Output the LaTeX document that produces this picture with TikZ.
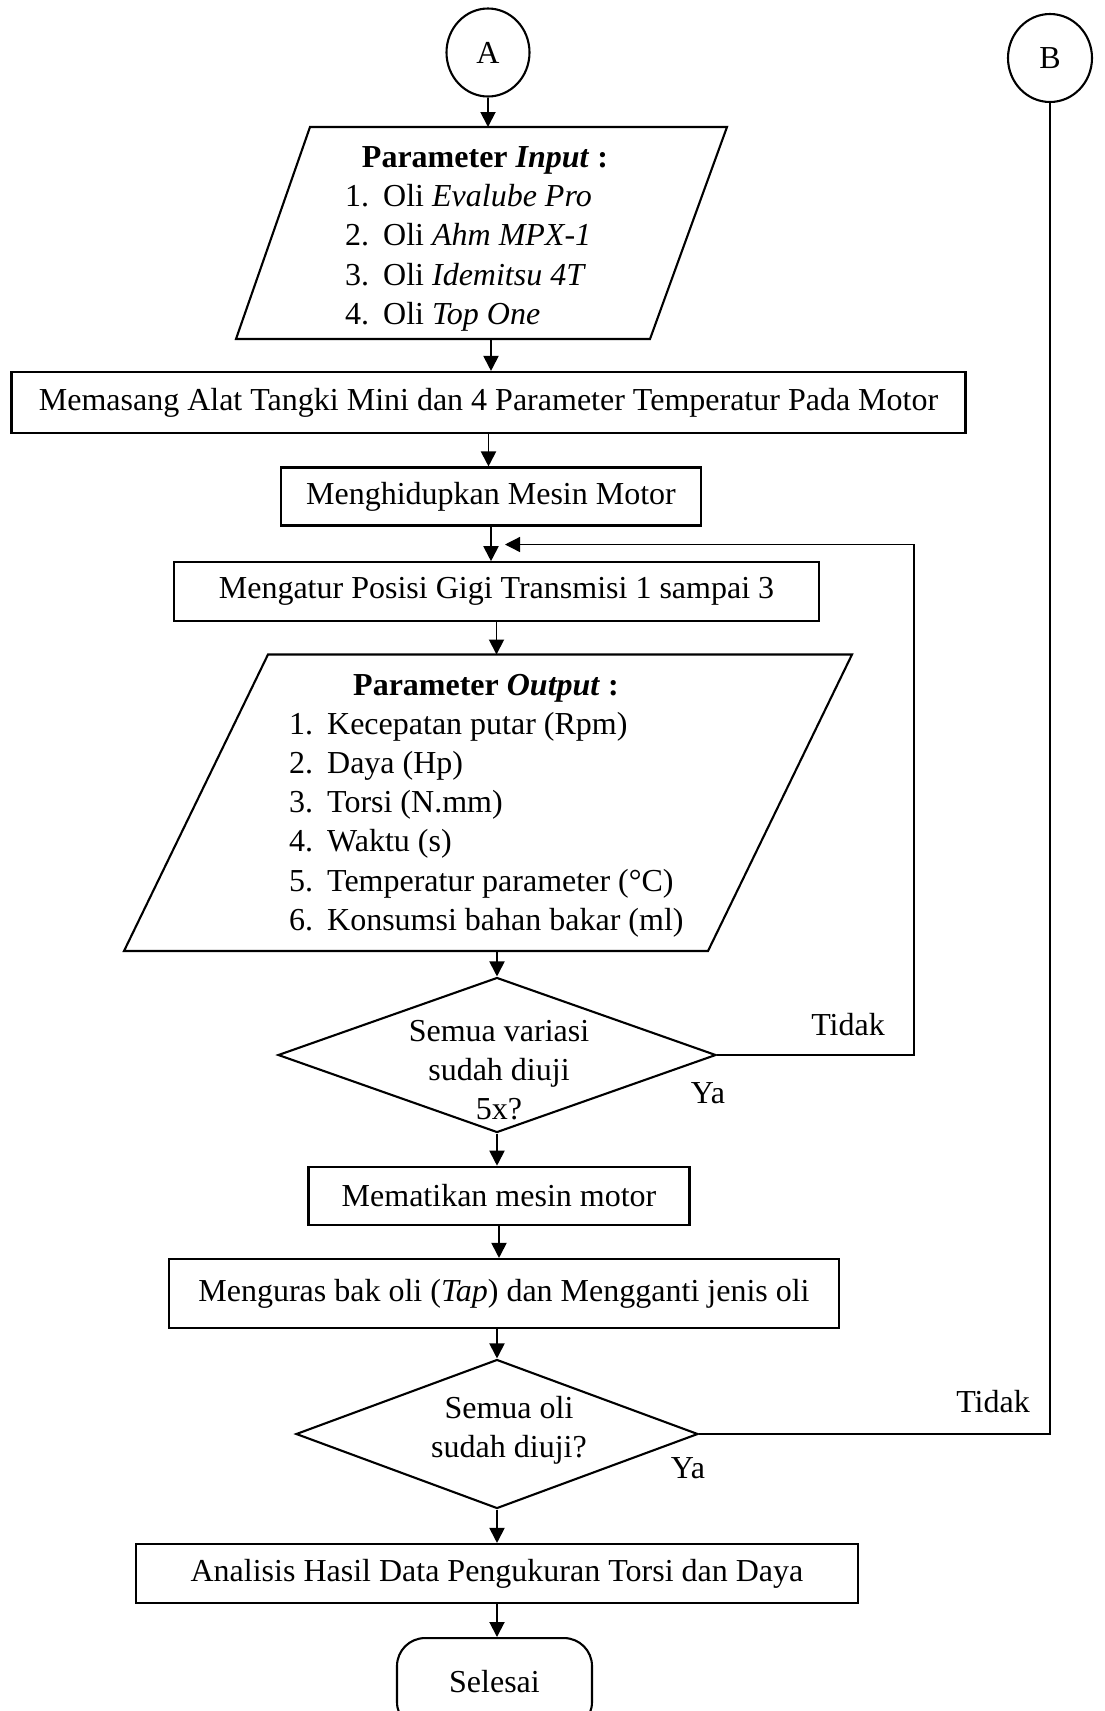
\documentclass[tikz,border=0pt]{standalone}
\usepackage{fontspec}
\setmainfont{Liberation Serif}
\usetikzlibrary{shapes.geometric,arrows.meta}
\newcommand\fsz{\fontsize{32}{39.3}\selectfont}
\newcommand\itm[2]{\makebox[38pt][l]{#1}#2}
\begin{document}
\begin{tikzpicture}[x=1pt,y=-1pt,
  shp/.style={draw, line width=2.1pt},
  box/.style={shp, rectangle, inner sep=0pt, align=center, font=\fsz},
  txt/.style={font=\fsz, inner sep=0pt, text height=23pt, text depth=7pt},
  mtxt/.style={font=\fsz, inner sep=0pt, align=center},
  tip/.style={-{Triangle[length=15pt,width=15pt]}},
  arr/.style={line width=1.9pt, tip},
  lnk/.style={line width=1.3pt},
]
\useasboundingbox (0,0) rectangle (1104,1711);

% connectors A and B
\node[shp, ellipse, minimum width=83pt, minimum height=88pt, inner sep=0pt, font=\fsz] (A) at (488,52.5) {A};
\node[shp, ellipse, minimum width=84pt, minimum height=88pt, inner sep=0pt, font=\fsz] (B) at (1050,58) {B};

% input parallelogram
\draw[shp] (310,127) -- (727,127) -- (650,339) -- (236,339) -- cycle;
\coordinate (inN) at (488,127);
\coordinate (inS) at (491,339);
\node[txt] (inT) at (485,159) {\bfseries Parameter \textit{Input} :};
\node[txt, anchor=west] (in1) at (345,198.5) {\itm{1.}{Oli \textit{Evalube Pro}}};
\node[txt, anchor=west] (in2) at (345,237.8) {\itm{2.}{Oli \textit{Ahm MPX-1}}};
\node[txt, anchor=west] (in3) at (345,277.1) {\itm{3.}{Oli \textit{Idemitsu 4T}}};
\node[txt, anchor=west] (in4) at (345,316.4) {\itm{4.}{Oli \textit{Top One}}};

% boxes
\node[box, minimum width=954pt, minimum height=61pt] (b1) at (488.5,402.5) {Memasang Alat Tangki Mini dan 4 Parameter Temperatur Pada Motor};
\node[box, minimum width=420pt, minimum height=58pt] (b2) at (491,496.5) {Menghidupkan Mesin Motor};
\node[box, minimum width=645pt, minimum height=58.5pt] (b3) at (496.5,591.5) {Mengatur Posisi Gigi Transmisi 1 sampai 3};

% output parallelogram
\draw[shp] (268,654.5) -- (852,654.5) -- (708,951) -- (124,951) -- cycle;
\coordinate (outN) at (496.5,654.5);
\coordinate (outS) at (497,951);
\node[txt] (outT) at (486,687) {\bfseries Parameter \textit{Output} :};
\node[txt, anchor=west] (o1) at (289,726) {\itm{1.}{Kecepatan putar (Rpm)}};
\node[txt, anchor=west] (o2) at (289,765.3) {\itm{2.}{Daya (Hp)}};
\node[txt, anchor=west] (o3) at (289,804.6) {\itm{3.}{Torsi (N.mm)}};
\node[txt, anchor=west] (o4) at (289,843.9) {\itm{4.}{Waktu (s)}};
\node[txt, anchor=west] (o5) at (289,883.2) {\itm{5.}{Temperatur parameter (°C)}};
\node[txt, anchor=west] (o6) at (289,922.5) {\itm{6.}{Konsumsi bahan bakar (ml)}};

% decision 1
\node[shp, diamond, minimum width=438pt, minimum height=155pt, inner sep=0pt] (d1) at (497,1055) {};
\node[mtxt] (d1t) at (499,1070) {Semua variasi\\sudah diuji\\5x?};
\node[txt] (t1) at (848,1027) {Tidak};
\node[txt] (y1) at (708,1095) {Ya};

\node[box, minimum width=381pt, minimum height=58.5pt] (b4) at (499,1196) {Mematikan mesin motor};
\node[box, minimum width=670pt, minimum height=69pt] (b5) at (504,1293.5) {Menguras bak oli (\textit{Tap}) dan Mengganti jenis oli};

% decision 2
\node[shp, diamond, minimum width=402pt, minimum height=149pt, inner sep=0pt] (d2) at (497,1434) {};
\node[mtxt] (d2t) at (509,1430) {Semua oli\\sudah diuji?};
\node[txt] (t2) at (993,1404) {Tidak};
\node[txt] (y2) at (688,1470) {Ya};

\node[box, minimum width=722pt, minimum height=59pt] (b6) at (497,1573.5) {Analisis Hasil Data Pengukuran Torsi dan Daya};
\node[shp, rectangle, rounded corners=28pt, minimum width=195pt, minimum height=92pt, anchor=north, font=\fsz, text height=23pt, text depth=7pt] (sel) at (494.5,1637) {Selesai};

% loop coordinates
\coordinate (lc) at (914,544.5);
\coordinate (lp) at (505,544.5);

% arrows
\draw[arr] (A.south) -- (inN);
\draw[arr] (inS) -- (inS |- b1.north);
\draw[arr] (b1.south) -- (b1.south |- b2.north);
\draw[arr] (b2.south) -- (b2.south |- b3.north);
\draw[arr] (outN |- b3.south) -- (outN);
\draw[arr] (outS) -- (d1.north);
\draw[arr] (d1.south) -- (d1.south |- b4.north);
\draw[arr] (b4.south) -- (b4.south |- b5.north);
\draw[arr] (d2.north |- b5.south) -- (d2.north);
\draw[arr] (d2.south) -- (d2.south |- b6.north);
\draw[arr] (b6.south) -- (b6.south |- sel.north);
\draw[lnk, tip] (d1.east) -| (lc) -- (lp);
\draw[lnk] (d2.east) -| (B.south);
\end{tikzpicture}
\end{document}
